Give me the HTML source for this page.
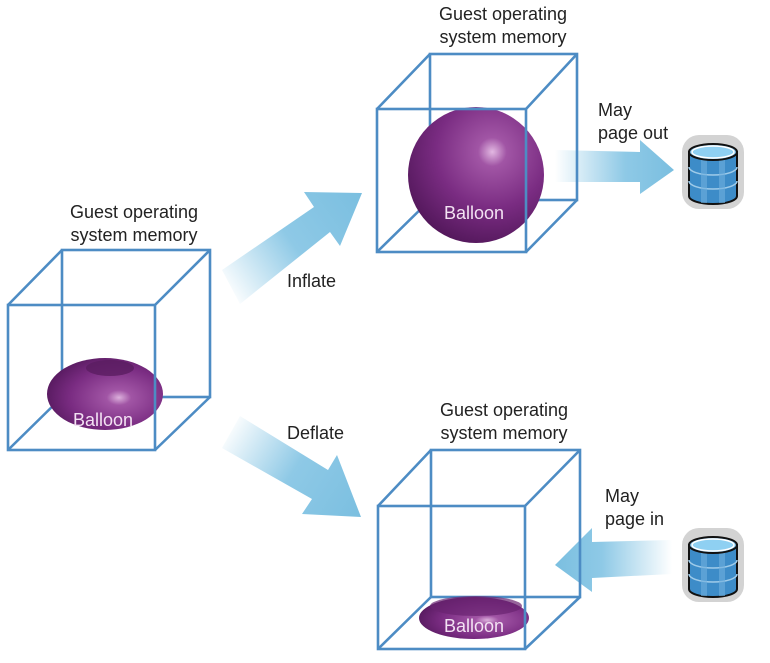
<!DOCTYPE html>
<html><head><meta charset="utf-8"><style>
html,body{margin:0;padding:0;background:#fff;}
svg{display:block;font-family:"Liberation Sans",sans-serif;}
</style></head><body>
<svg width="770" height="663" viewBox="0 0 770 663" xmlns="http://www.w3.org/2000/svg">
<defs>
<radialGradient id="sph" cx="0.62" cy="0.33" r="0.75">
<stop offset="0" stop-color="#e2b8e2"/><stop offset="0.14" stop-color="#a155a5"/><stop offset="0.55" stop-color="#7a2c82"/><stop offset="1" stop-color="#4e1556"/></radialGradient>
<radialGradient id="tor" cx="0.62" cy="0.55" r="0.7">
<stop offset="0" stop-color="#dcb0dc"/><stop offset="0.15" stop-color="#a155a5"/><stop offset="0.6" stop-color="#7a2c82"/><stop offset="1" stop-color="#4e1556"/></radialGradient>
<linearGradient id="ai" x1="225" y1="290" x2="360" y2="195" gradientUnits="userSpaceOnUse"><stop offset="0" stop-color="#8ec9e6" stop-opacity="0"/><stop offset="0.5" stop-color="#8ec9e6"/><stop offset="1" stop-color="#7bbfe0"/></linearGradient>
<linearGradient id="ad" x1="225" y1="430" x2="360" y2="515" gradientUnits="userSpaceOnUse"><stop offset="0" stop-color="#8ec9e6" stop-opacity="0"/><stop offset="0.5" stop-color="#8ec9e6"/><stop offset="1" stop-color="#7bbfe0"/></linearGradient>
<linearGradient id="ao" x1="555" y1="0" x2="672" y2="0" gradientUnits="userSpaceOnUse"><stop offset="0" stop-color="#8ec9e6" stop-opacity="0"/><stop offset="0.6" stop-color="#8ec9e6"/><stop offset="1" stop-color="#7bbfe0"/></linearGradient>
<linearGradient id="ap" x1="672" y1="0" x2="555" y2="0" gradientUnits="userSpaceOnUse"><stop offset="0" stop-color="#8ec9e6" stop-opacity="0"/><stop offset="0.6" stop-color="#8ec9e6"/><stop offset="1" stop-color="#7bbfe0"/></linearGradient>
<g id="disk">
<rect x="-31" y="-37" width="62" height="74" rx="17" fill="#d3d3d3"/>
<path d="M-24,-20 L-24,24 A24,8 0 0 0 24,24 L24,-20 Z" fill="#3d8cc8" stroke="#111" stroke-width="2"/>
<path d="M-24,-5 A24,8 0 0 0 24,-5 M-24,9 A24,8 0 0 0 24,9" fill="none" stroke="#9fcbe9" stroke-width="1.5"/>
<path d="M-9,-12 L-9,31 M9,-12 L9,31" stroke="#6fb0de" stroke-width="6" opacity="0.6"/>
<ellipse cx="0" cy="-20" rx="24" ry="8" fill="#7ec0ea" stroke="#111" stroke-width="2"/>
<ellipse cx="0" cy="-20" rx="21" ry="6" fill="#8fd0f2" stroke="#fff" stroke-width="1.5"/>
</g>
</defs>
<path d="M222,270 L314,207 L304,192 L362,193 L340,246 L330,232 L240,304 Z" fill="url(#ai)"/>
<path d="M240,416 L328,470 L337,455 L361,517 L302,514 L312,499 L222,448 Z" fill="url(#ad)"/>
<path d="M555,150 L640,152 L640,140 L674,170 L640,194 L640,182 L555,182 Z" fill="url(#ao)"/>
<path d="M672,540 L592,542 L592,528 L555,565 L592,592 L592,578 L672,574 Z" fill="url(#ap)"/>
<g fill="none" stroke="#4d8cc4" stroke-width="2.6">
<rect x="62" y="250" width="148" height="147"/>
<path d="M8,305 L62,250 M155,305 L210,250 M8,450 L62,397 M155,450 L210,397"/>
<rect x="430" y="54" width="147" height="146"/>
<path d="M377,109 L430,54 M526,109 L577,54 M377,252 L430,200 M526,252 L577,200"/>
<rect x="431" y="450" width="149" height="147"/>
<path d="M378,506 L431,450 M525,506 L580,450 M378,649 L431,597 M525,649 L580,597"/>
</g>
<ellipse cx="105" cy="394" rx="58" ry="36" fill="url(#tor)"/>
<ellipse cx="110" cy="368" rx="24" ry="8" fill="#5a1d60" opacity="0.8"/>
<circle cx="476" cy="175" r="68" fill="url(#sph)"/>
<ellipse cx="474" cy="618" rx="55" ry="21" fill="url(#tor)"/>
<ellipse cx="476" cy="606" rx="46" ry="10" fill="#6a2370" opacity="0.7"/>
<g fill="none" stroke="#4d8cc4" stroke-width="2.6">
<rect x="8" y="305" width="147" height="145"/>
<rect x="377" y="109" width="149" height="143"/>
<rect x="378" y="506" width="147" height="143"/>
</g>
<g fill="#f3e2f3" font-size="18" text-anchor="middle">
<text x="103" y="426">Balloon</text>
<text x="474" y="219">Balloon</text>
<text x="474" y="632">Balloon</text>
</g>
<g fill="#222" font-size="18" text-anchor="middle">
<text x="134" y="218">Guest operating</text><text x="134" y="241">system memory</text>
<text x="503" y="20">Guest operating</text><text x="503" y="43">system memory</text>
<text x="504" y="416">Guest operating</text><text x="504" y="439">system memory</text>
</g>
<g fill="#222" font-size="18">
<text x="287" y="287">Inflate</text>
<text x="287" y="439">Deflate</text>
<text x="598" y="116">May</text><text x="598" y="139">page out</text>
<text x="605" y="502">May</text><text x="605" y="525">page in</text>
</g>
<use href="#disk" x="713" y="172"/>
<use href="#disk" x="713" y="565"/>
</svg>
</body></html>
